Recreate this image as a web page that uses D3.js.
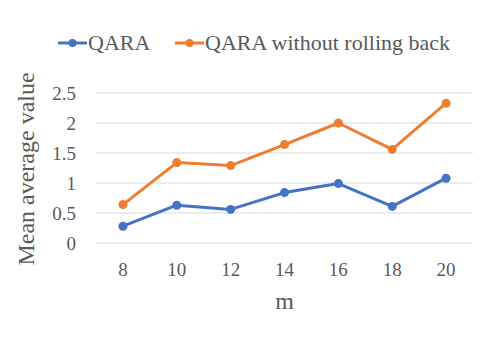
<!DOCTYPE html>
<html lang="en">
<head>
<meta charset="UTF-8">
<title>QARA chart</title>
<script src="https://d3js.org/d3.v7.min.js"></script>
<style>
    body { margin: 0; background: #fff; }
    svg text { font-family: "Liberation Serif", "Tinos", "Times New Roman", "DejaVu Serif", serif; fill: #595959; }
</style>
</head>
<body>
<svg id="chart" width="498" height="345"></svg>
<script>
    // data
    var categories = ["8", "10", "12", "14", "16", "18", "20"];
    var qara = [0.28, 0.63, 0.56, 0.84, 0.99, 0.61, 1.08];
    var qaraNoRollback = [0.64, 1.34, 1.29, 1.64, 2.0, 1.56, 2.33];
    var yTicks = [0, 0.5, 1, 1.5, 2, 2.5];
    var seriesNames = ["QARA", "QARA without rolling back"];
    var colors = ["#4472C4", "#ED7D31"];

    var margin = {top: 93, left: 96, right: 25, bottom: 102};
    var width = 498 - margin.left - margin.right,
        height = 345 - margin.top - margin.bottom;

    var svg = d3.select("#chart");
    var g = svg.append("g").attr("transform", "translate(" + margin.left + "," + margin.top + ")");

    var x = d3.scaleBand().domain(categories).range([0, width]);
    var y = d3.scaleLinear().domain([0, 2.5]).range([height, 0]);

    // gridlines
    g.selectAll(".grid").data(yTicks).enter().append("line")
        .attr("x1", 0).attr("x2", width)
        .attr("y1", function(d) { return y(d); })
        .attr("y2", function(d) { return y(d); })
        .attr("stroke", "#d9d9d9").attr("stroke-width", 1);

    // y axis
    var yAxis = g.append("g")
        .call(d3.axisLeft(y).tickValues(yTicks).tickSize(0).tickPadding(20).tickFormat(function(d) { return d; }));
    yAxis.select(".domain").remove();
    yAxis.attr("font-family", null);
    yAxis.selectAll("text").attr("font-size", 19);

    // x axis
    var xAxis = g.append("g").attr("transform", "translate(0," + height + ")")
        .call(d3.axisBottom(x).tickSize(0).tickPadding(20));
    xAxis.select(".domain").remove();
    xAxis.attr("font-family", null);
    xAxis.selectAll("text").attr("font-size", 19);

    // axis titles
    svg.append("text")
        .attr("transform", "translate(34," + (margin.top + height / 2 + 1) + ") rotate(-90)")
        .attr("text-anchor", "middle")
        .attr("font-size", 24)
        .text("Mean average value");
    svg.append("text")
        .attr("x", margin.left + width / 2).attr("y", 309)
        .attr("text-anchor", "middle")
        .attr("font-size", 24)
        .text("m");

    // lines and markers
    var line = d3.line()
        .x(function(d, i) { return x(categories[i]) + x.bandwidth() / 2; })
        .y(function(d) { return y(d); });

    [qara, qaraNoRollback].forEach(function(values, s) {
        g.append("path").datum(values)
            .attr("d", line)
            .attr("fill", "none")
            .attr("stroke", colors[s])
            .attr("stroke-width", 3)
            .attr("stroke-linejoin", "round");
        g.selectAll(".pt" + s).data(values).enter().append("circle")
            .attr("cx", function(d, i) { return x(categories[i]) + x.bandwidth() / 2; })
            .attr("cy", function(d) { return y(d); })
            .attr("r", 4.5)
            .attr("fill", colors[s]);
    });

    // legend
    var legendX = [58, 175];
    seriesNames.forEach(function(name, s) {
        var lg = svg.append("g").attr("transform", "translate(" + legendX[s] + ",43)");
        lg.append("line").attr("x1", 0).attr("x2", 29).attr("y1", 0).attr("y2", 0)
            .attr("stroke", colors[s]).attr("stroke-width", 3);
        lg.append("circle").attr("cx", 14.5).attr("cy", 0).attr("r", 4).attr("fill", colors[s]);
        lg.append("text").attr("x", 30).attr("y", 7).attr("font-size", 22).text(name);
    });
</script>
</body>
</html>
